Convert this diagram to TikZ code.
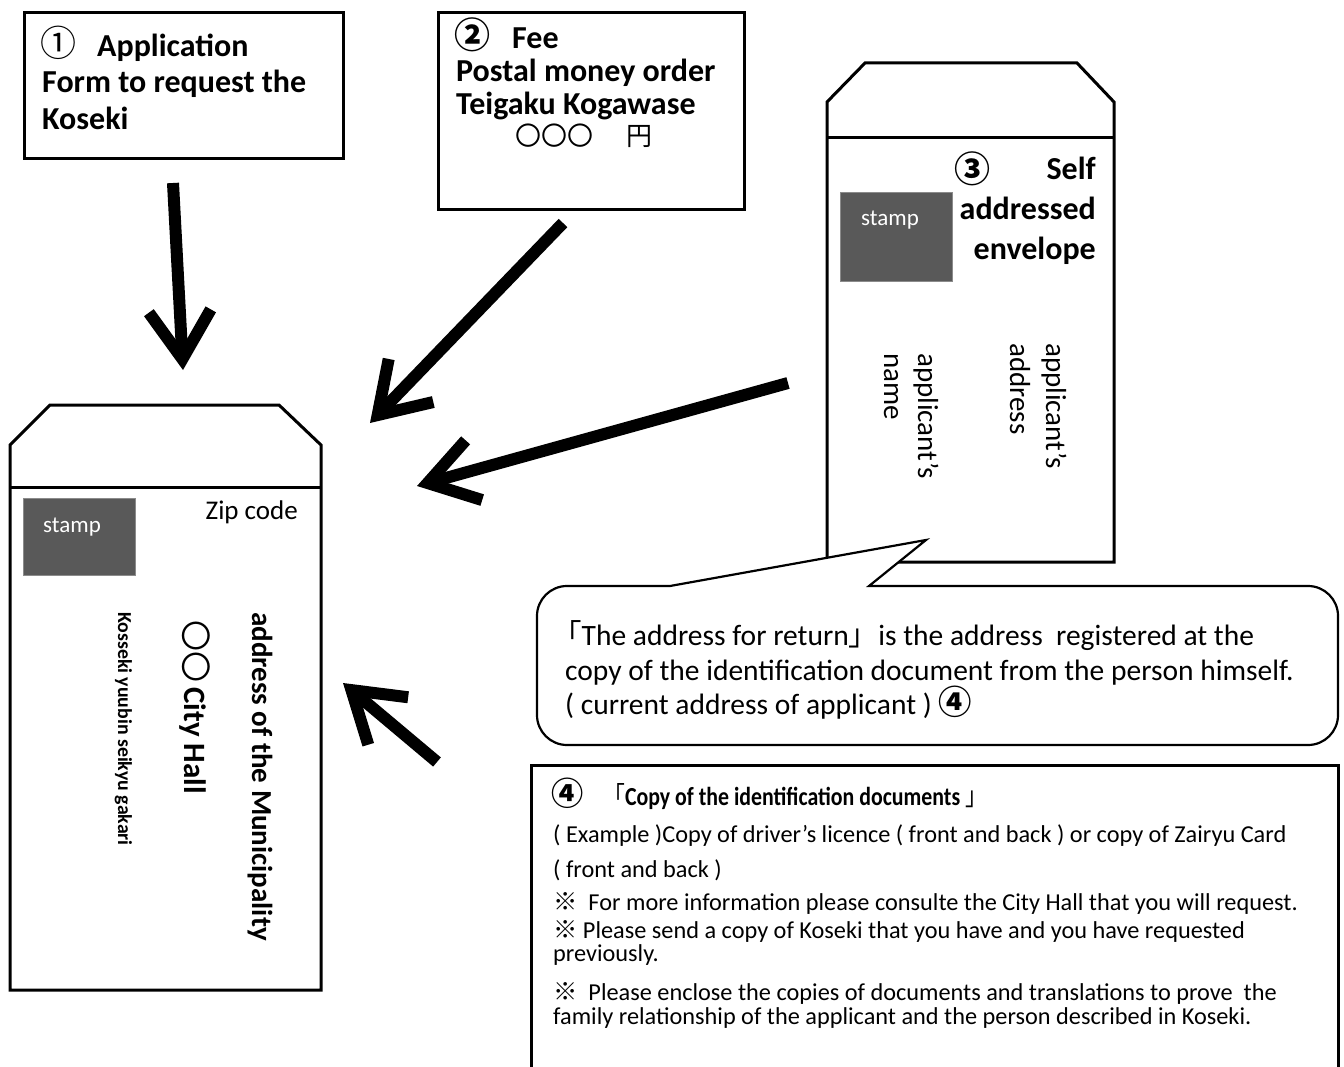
\documentclass[tikz,border=0pt]{standalone}
\usepackage{fontspec}
\setmainfont{Carlito}
\newfontfamily\cjk{Noto Sans CJK JP}
\usetikzlibrary{arrows.meta}
\definecolor{stampgray}{HTML}{595959}
\newcommand\fbig{\fontsize{32}{38}\selectfont\bfseries}
\newcommand\fmid{\fontsize{29.5}{35}\selectfont}
\newcommand\fdoc{\fontsize{24.3}{29}\selectfont}
\newcommand\circd[1]{\scalebox{1.2}{\fontsize{30}{34}\selectfont\cjk\mdseries #1}}
\newcommand\circb[1]{\scalebox{1.2}{\fontsize{30}{34}\selectfont\cjk\bfseries #1}}
\begin{document}
\begin{tikzpicture}[x=1pt,y=-1pt,
  frame/.style={draw, line width=3pt, inner sep=0pt, anchor=north west},
  env/.style={draw, line width=3pt, line join=miter, fill=white},
  stampbox/.style={fill=stampgray, draw=stampgray!70!white, line width=0.8pt},
  stamptext/.style={text=white, font=\fontsize{23}{28}\selectfont, anchor=base west, inner sep=0pt},
  t/.style={anchor=base west, inner sep=0pt},
  tr/.style={anchor=base east, inner sep=0pt},
  vt/.style={anchor=base west, inner sep=0pt, rotate=-90},
  bigarrow/.style={line width=12pt, -{Straight Barb[length=48pt,width=62pt]}},
]
\useasboundingbox (0,0) rectangle (1344,1067);

% ---- box 1
\node[frame, minimum width=319, minimum height=146] (b1) at (23,11) {};
\node[t, font=\fbig] (b1a) at (40,57) {\makebox[57pt][l]{\circd{①}}Application};
\node[t, font=\fbig] (b1b) at (42,93) {Form to request the};
\node[t, font=\fbig] (b1c) at (42,130) {Koseki};

% ---- box 2
\node[frame, minimum width=306, minimum height=197] (b2) at (437,11) {};
\node[t, font=\fbig] (b2a) at (454,49) {\makebox[58pt][l]{\circb{②}}Fee};
\node[t, font=\fbig] (b2b) at (456,82) {Postal money order};
\node[t, font=\fbig] (b2c) at (456,115) {Teigaku Kogawase};
\node[t, font=\fontsize{26}{30}\selectfont\cjk] (b2d) at (515,146) {〇〇〇\hspace{33pt}円};

% ---- envelope 3 (self addressed)
\draw[env] (827,102) -- (865,63) -- (1077,63) -- (1114,102) -- (1114,562) -- (827,562) -- cycle;
\draw[line width=3pt] (827,138) -- (1114,138);
\node[stampbox, minimum width=112, minimum height=89, anchor=north west] (s3) at (840,192) {};
\node[stamptext] (s3t) at (861,226) {stamp};
\node[t] (e3a) at (954,183) {\circb{③}};
\node[tr, font=\fbig] (e3b) at (1096,180) {Self};
\node[tr, font=\fbig] (e3c) at (1096,220) {addressed};
\node[tr, font=\fbig] (e3d) at (1096,260) {envelope};
\node[vt, font=\fontsize{29}{35}\selectfont] (e3e) at (1046,343) {applicant's};
\node[vt, font=\fontsize{29}{35}\selectfont] (e3f) at (1010,343) {address};
\node[vt, font=\fontsize{29}{35}\selectfont] (e3g) at (918,353) {applicant's};
\node[vt, font=\fontsize{29}{35}\selectfont] (e3h) at (884,353) {name};

% ---- callout
\draw[line width=2.2pt, fill=white] (670,586) -- (926,540) -- (869,586) -- (1308,586)
  arc[start angle=-90, end angle=0, radius=30] -- (1338,715)
  arc[start angle=0, end angle=90, radius=30] -- (567,745)
  arc[start angle=90, end angle=180, radius=30] -- (537,616)
  arc[start angle=180, end angle=270, radius=30] -- cycle;
\node[t, font=\fmid] (c1) at (552,645) {{\cjk 「}The address for return{\cjk 」}is the address\ \ registered at the};
\node[t, font=\fmid] (c2) at (565,680) {copy of the identification document from the person himself.};
\node[t, font=\fmid] (c3) at (565,714) {( current address of applicant ) \scalebox{1.15}{\fontsize{29}{35}\selectfont\cjk\bfseries ④}};

% ---- envelope 1 (to city hall)
\draw[env] (10,445) -- (50,405) -- (279,405) -- (321,445) -- (321,990) -- (10,990) -- cycle;
\draw[line width=3pt] (10,487) -- (321,487);
\node[stampbox, minimum width=112, minimum height=77, anchor=north west] (s1) at (23,498) {};
\node[stamptext] (s1t) at (43,532) {stamp};
\node[tr, font=\fontsize{27}{32}\selectfont] (zip) at (298,519) {Zip code};
\node[vt, font=\fontsize{29}{35}\selectfont\bfseries] (m1) at (252,612) {address of the Municipality};
\node[vt, font=\fontsize{31}{35}\selectfont\bfseries] (m2) at (184,620) {{\cjk\mdseries 〇〇}\,City Hall};
\node[vt, font=\fontsize{19.8}{23}\selectfont\bfseries] (m3) at (118,612) {Kosseki yuubin seikyu gakari};

% ---- box 4
\draw[line width=3pt] (531,1075) -- (531,765) -- (1338,765) -- (1338,1075);
\coordinate (b4top) at (437,762);
\node[t, font=\fontsize{26}{30}\selectfont\bfseries] (d1) at (551,805) {\makebox[52pt][l]{\scalebox{1.15}{\fontsize{28}{30}\selectfont\cjk\bfseries ④}}\scalebox{0.84}[1]{{\cjk\mdseries 「}Copy of the identification documents {\cjk\mdseries 」}}};
\node[t, font=\fdoc] (d2) at (553,842) {( Example )Copy of driver's licence ( front and back ) or copy of Zairyu Card};
\node[t, font=\fdoc] (d3) at (553,877) {( front and back )};
\node[t, font=\fdoc] (d4) at (553,910) {{\cjk ※}\ \ For more information please consulte the City Hall that you will request.};
\node[t, font=\fdoc] (d5) at (553,938) {{\cjk ※}\ Please send a copy of Koseki that you have and you have requested};
\node[t, font=\fdoc] (d6) at (553,961) {previously.};
\node[t, font=\fdoc] (d7) at (553,1000) {{\cjk ※}\ \ Please enclose the copies of documents and translations to prove\ \ the};
\node[t, font=\fdoc] (d8) at (553,1024) {family relationship of the applicant and the person described in Koseki.};

% ---- arrows
\coordinate (a1s) at (173,183);
\coordinate (a1e) at (183,370);
\coordinate (a2s) at (563,223);
\coordinate (a2e) at (370,423);
\coordinate (a3s) at (788,383);
\coordinate (a3e) at (417,486);
\coordinate (a4e) at (343,683);
\draw[bigarrow] (a1s) -- (a1e);
\draw[bigarrow] (a2s) -- (a2e);
\draw[bigarrow] (a3s) -- (a3e);
\draw[bigarrow] (b4top) -- (a4e);
\end{tikzpicture}
\end{document}
